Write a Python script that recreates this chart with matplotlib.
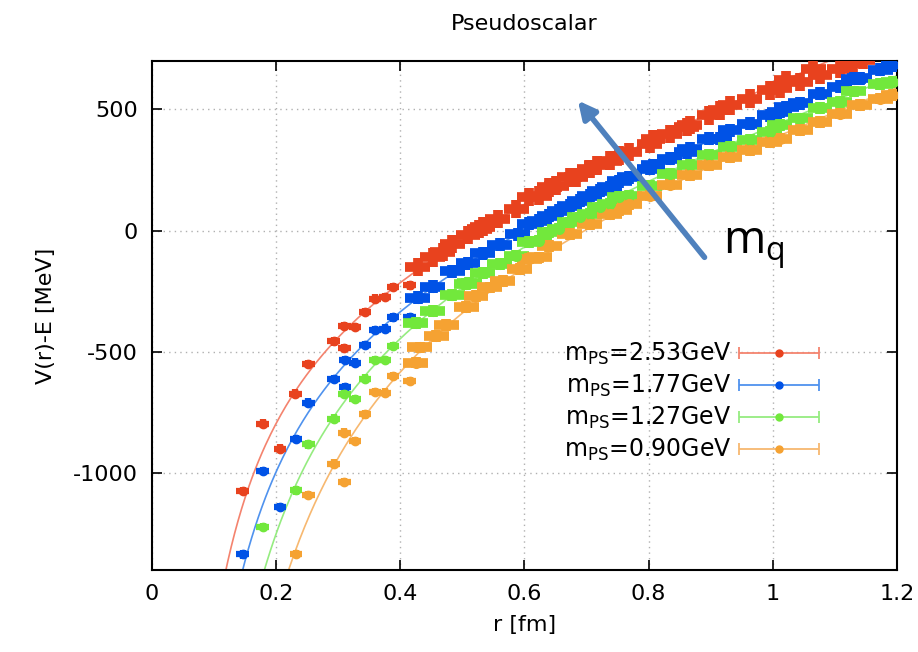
import numpy as np
import matplotlib
matplotlib.use("Agg")
import matplotlib.pyplot as plt
from matplotlib.legend_handler import HandlerErrorbar

plt.rcParams['font.family'] = ['DejaVu Sans']
plt.rcParams['mathtext.default'] = 'regular'
plt.rcParams['axes.unicode_minus'] = False

# --- data: r [fm], V(r)-E [MeV] ---
labels = ["m$_{PS}$=2.53GeV", "m$_{PS}$=1.77GeV", "m$_{PS}$=1.27GeV", "m$_{PS}$=0.90GeV"]

r_253 = [0.146, 0.178, 0.2065, 0.231, 0.252, 0.2925, 0.310, 0.310, 0.327, 0.343,
         0.359, 0.375, 0.388, 0.415, 0.428, 0.452, 0.468, 0.484, 0.509, 0.527,
         0.533, 0.557, 0.587, 0.608, 0.624, 0.640, 0.651, 0.673, 0.683, 0.705,
         0.716, 0.737, 0.753, 0.769, 0.802, 0.807, 0.834, 0.861, 0.866, 0.898,
         0.915, 0.931, 0.963, 0.995, 1.011, 1.022, 1.044, 1.065, 1.076, 1.108,
         1.129, 1.145]
v_253 = [-1074, -796, -899, -672, -551, -457, -485, -393, -397, -335,
         -280, -273, -231, -226, -150, -110, -88, -54, -18, 8,
         17, 48, 90, 138, 145, 179, 186, 220, 220, 255,
         269, 289, 310, 324, 358, 379, 400, 427, 435, 476,
         496, 517, 545, 579, 587, 620, 614, 668, 643, 669,
         690, 705]

r_177 = [0.146, 0.178, 0.2065, 0.232, 0.252, 0.2925, 0.311, 0.311, 0.327, 0.343,
         0.359, 0.375, 0.388, 0.415, 0.428, 0.452, 0.484, 0.509, 0.533, 0.560,
         0.589, 0.608, 0.624, 0.640, 0.656, 0.673, 0.689, 0.705, 0.721, 0.737,
         0.753, 0.769, 0.802, 0.807, 0.834, 0.861, 0.866, 0.898, 0.915, 0.931,
         0.963, 0.995, 1.011, 1.022, 1.044, 1.076, 1.108, 1.130, 1.140, 1.173,
         1.194]
v_177 = [-1336, -992, -1140, -858, -709, -613, -647, -534, -544, -472,
         -410, -404, -358, -358, -276, -232, -168, -135, -93, -58,
         -14, 28, 41, 62, 83, 103, 124, 145, 165, 179,
         203, 220, 255, 269, 296, 324, 339, 380, 379, 414,
         442, 476, 490, 510, 525, 565, 594, 627, 628, 665,
         683]

r_127 = [0.178, 0.232, 0.252, 0.2925, 0.310, 0.327, 0.343, 0.359, 0.375, 0.388,
         0.425, 0.452, 0.484, 0.506, 0.511, 0.533, 0.560, 0.587, 0.608, 0.624,
         0.640, 0.656, 0.673, 0.689, 0.705, 0.721, 0.737, 0.753, 0.769, 0.802,
         0.834, 0.866, 0.898, 0.931, 0.963, 0.995, 1.011, 1.044, 1.076, 1.108,
         1.130, 1.173, 1.194]
v_127 = [-1223, -1072, -882, -775, -675, -696, -610, -534, -534, -477,
         -382, -331, -265, -220, -214, -175, -138, -103, -48, -41,
         -7, 7, 34, 55, 69, 96, 110, 138, 145, 186,
         235, 272, 311, 346, 373, 408, 436, 463, 505, 532,
         575, 605, 615]

r_090 = [0.232, 0.252, 0.2925, 0.310, 0.310, 0.327, 0.343, 0.359, 0.375, 0.388,
         0.415, 0.425, 0.431, 0.458, 0.474, 0.506, 0.522, 0.544, 0.565, 0.592,
         0.608, 0.624, 0.640, 0.673, 0.705, 0.737, 0.753, 0.769, 0.802, 0.834,
         0.866, 0.898, 0.931, 0.963, 0.995, 1.011, 1.044, 1.076, 1.108, 1.140,
         1.173, 1.194]
v_090 = [-1333, -1091, -961, -1037, -833, -868, -758, -665, -668, -599,
         -620, -544, -482, -434, -390, -314, -269, -234, -207, -158,
         -115, -110, -62, -14, 28, 69, 85, 110, 145, 190,
         229, 270, 304, 332, 367, 380, 415, 449, 483, 518,
         545, 559]

# error sizes: isolated small-r points vs. the dense band
err_small = [17, 17, 17, 17]
err_band = [38, 27, 24, 24]

# Cornell fit parameters (V = -A/r + sigma*r + C)
fit_A = [154.6, 193.8, 256.1, 330.9]
fit_sigma = [970.7, 876.4, 821.8, 778.2]
fit_C = [-216.1, -200.6, -133.7, -67.3]

r_all = [r_253, r_177, r_127, r_090]
v_all = [v_253, v_177, v_127, v_090]
point_colors = ['#e8421e', '#0052e6', '#72e83c', '#f5a232']
line_colors = ['#f4836e', '#4f92ee', '#95ec80', '#f7b870']

fig = plt.figure(figsize=(9.18, 6.52), dpi=100)
ax = fig.add_axes([0.1656, 0.1258, 0.8115, 0.7806])

# fit curves
for i in range(4):
    rr = np.linspace(0.1, 1.2, 400)
    vv = -fit_A[i] / rr + fit_sigma[i] * rr + fit_C[i]
    ax.plot(rr, vv, color=line_colors[i], lw=1.2, zorder=2)

# data points
handles = []
for i in range(4):
    r = np.array(r_all[i])
    v = np.array(v_all[i])
    near = r < 0.42
    ax.errorbar(r[near], v[near], xerr=0.010, yerr=err_small[i], fmt='o',
                ms=6, color=point_colors[i], ecolor=point_colors[i],
                elinewidth=4.5, capsize=0, zorder=3 + i * 0.1)
    ax.errorbar(r[~near], v[~near], xerr=0.02, yerr=err_band[i], fmt='o',
                ms=7, color=point_colors[i], ecolor=point_colors[i],
                elinewidth=7, capsize=0, zorder=3 + i * 0.1)
    h = ax.errorbar([np.nan], [np.nan], xerr=[1], fmt='o', ms=5,
                    color=point_colors[i], ecolor=line_colors[i],
                    elinewidth=1.3, capsize=4, capthick=1.3, label=labels[i])
    handles.append(h)

ax.set_xlim(0, 1.2)
ax.set_ylim(-1400, 700)
ax.set_xticks([0, 0.2, 0.4, 0.6, 0.8, 1.0, 1.2])
ax.set_xticklabels(['0', '0.2', '0.4', '0.6', '0.8', '1', '1.2'])
ax.set_yticks([-1000, -500, 0, 500])
ax.tick_params(direction='in', length=7, width=1.2, top=True, right=True,
               labelsize=16, pad=10)
for s in ax.spines.values():
    s.set_linewidth(1.5)
ax.grid(True, color='#b0b0b0', linestyle=(0, (1, 3)), lw=1)

ax.set_title("Pseudoscalar", fontsize=16, pad=22)
ax.set_xlabel("r [fm]", fontsize=16, labelpad=8)
ax.set_ylabel("V(r)-E [MeV]", fontsize=16, labelpad=12)

leg = ax.legend(handles=handles, loc='center right', bbox_to_anchor=(0.924, 0.33),
                frameon=False, markerfirst=False, fontsize=17, handlelength=3.4,
                labelspacing=0.25, handletextpad=0.3,
                handler_map={type(handles[0]): HandlerErrorbar(xerr_size=1.7)})

# arrow and m_q label
ax.annotate('', xy=(0.686, 537), xytext=(0.890, -110),
            arrowprops=dict(arrowstyle='-|>', lw=4, color='#4f81bd',
                            mutation_scale=26, shrinkA=0, shrinkB=0), zorder=6)
ax.text(0.919, -95, 'm$_q$', fontsize=33, family=['Open Sans'], ha='left',
        va='baseline', zorder=6)

fig.savefig("out.png", dpi=100)
